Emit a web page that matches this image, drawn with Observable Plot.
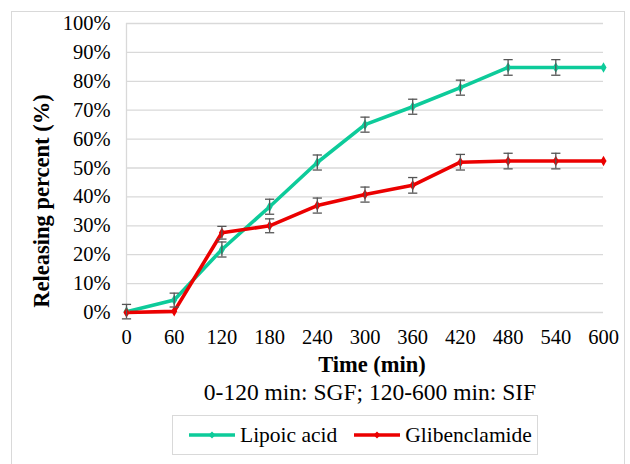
<!DOCTYPE html>
<html>
<head>
<meta charset="utf-8">
<script src="https://cdn.jsdelivr.net/npm/d3@7"></script>
<script src="https://cdn.jsdelivr.net/npm/@observablehq/plot@0.6"></script>
<style>
  body { margin: 0; font-family: 'Liberation Serif', serif; }
  .txt { position: absolute; white-space: nowrap; color: #000; font-family: 'Liberation Serif', serif; }
</style>
</head>
<body>
<div id="frame" style="position:absolute;left:11px;top:11px;width:614px;height:470px;border:1px solid #d9d9d9;box-sizing:border-box;"></div>
<div id="chart" style="position:absolute;left:0;top:0;"></div>
<div id="ytitle" class="txt" style="left:42px;top:201px;transform:translate(-50%,-50%) rotate(-90deg);font-size:22.5px;font-weight:bold;"></div>
<div id="xtitle" class="txt" style="left:372px;top:365px;transform:translate(-50%,-50%);font-size:22.5px;font-weight:bold;"></div>
<div id="subtitle" class="txt" style="left:370px;top:392px;transform:translate(-50%,-50%);font-size:23.5px;"></div>
<div id="legend" style="position:absolute;left:172px;top:415px;width:366px;height:40px;border:1px solid #d9d9d9;box-sizing:border-box;display:flex;align-items:center;font-size:21.5px;color:#000;font-family:'Liberation Serif',serif;"></div>
<script>
const times = [0, 60, 120, 180, 240, 300, 360, 420, 480, 540, 600];
const lipoic = [0.3, 4.3, 21.8, 36.6, 51.9, 65.0, 71.2, 77.8, 84.8, 84.8, 84.8];
const lipoicErr = [2.5, 2.4, 2.6, 2.6, 2.6, 2.6, 2.6, 2.6, 2.7, 2.7, 0];
const glib = [0, 0.4, 27.6, 30.0, 37.0, 40.8, 44.0, 52.0, 52.4, 52.4, 52.4];
const glibErr = [0, 0, 2.2, 2.4, 2.6, 2.6, 2.7, 2.7, 2.7, 2.7, 0];
const seriesNames = ["Lipoic acid", "Glibenclamide"];
const seriesColors = ["#0DCB9A", "#EB0000"];
const yTicks = [0, 10, 20, 30, 40, 50, 60, 70, 80, 90, 100];
const yTitle = "Releasing percent (%)";
const xTitle = "Time (min)";
const subtitle = "0-120 min: SGF; 120-600 min: SIF";

document.getElementById("ytitle").textContent = yTitle;
document.getElementById("xtitle").textContent = xTitle;
document.getElementById("subtitle").textContent = subtitle;

const rows = [];
[lipoic, glib].forEach((vals, si) => {
  const errs = si === 0 ? lipoicErr : glibErr;
  times.forEach((t, i) => rows.push({series: seriesNames[si], t, v: vals[i], e: errs[i]}));
});
const errRows = rows.filter(d => d.e > 0);

const capSymbol = {
  draw(context, size) {
    const r = Math.sqrt(size) / 2;
    context.moveTo(-r, 0);
    context.lineTo(r, 0);
  }
};

const plot = Plot.plot({
  width: 630,
  height: 360,
  marginLeft: 126,
  marginRight: 27,
  marginTop: 23,
  marginBottom: 48,
  style: {fontFamily: "Liberation Serif", fontSize: "20.5px", color: "#000", background: "transparent"},
  x: {domain: [0, 600], ticks: times, tickSize: 0, tickPadding: 17, label: null},
  y: {domain: [0, 100], ticks: yTicks, tickSize: 0, tickPadding: 16, tickFormat: d => d + "%", label: null},
  color: {domain: seriesNames, range: seriesColors},
  marks: [
    Plot.gridY(yTicks, {stroke: "#d9d9d9", strokeOpacity: 1, strokeWidth: 1.3}),
    Plot.ruleX([0], {stroke: "#d9d9d9", strokeWidth: 1.3}),
    Plot.axisX({ticks: times, tickSize: 0, tickPadding: 17, fontSize: 20.5, fontFamily: "Liberation Serif", label: null}),
    Plot.axisY({ticks: yTicks, tickSize: 0, tickPadding: 16, fontSize: 20.5, fontFamily: "Liberation Serif", tickFormat: d => d + "%", label: null}),
    Plot.line(rows, {x: "t", y: "v", z: "series", stroke: "series", strokeWidth: 3.6}),
    Plot.dot(rows, {x: "t", y: "v", fill: "series", symbol: "diamond", r: 3.2}),
    Plot.ruleX(errRows, {x: "t", y1: d => d.v - d.e, y2: d => d.v + d.e, stroke: "#555", strokeWidth: 1.3}),
    Plot.dot(errRows, {x: "t", y: d => d.v - d.e, symbol: capSymbol, r: 5.2, stroke: "#555", fill: "none", strokeWidth: 1.3}),
    Plot.dot(errRows, {x: "t", y: d => d.v + d.e, symbol: capSymbol, r: 5.2, stroke: "#555", fill: "none", strokeWidth: 1.3})
  ]
});
document.getElementById("chart").appendChild(plot);

const legend = document.getElementById("legend");
seriesNames.forEach((name, i) => {
  const item = document.createElement("div");
  item.style.cssText = "display:flex;align-items:center;white-space:nowrap;font-family:'Liberation Serif',serif;margin-left:" + (i === 0 ? 15 : 16) + "px";
  item.innerHTML = `<svg width="48" height="12" style="margin-right:4px"><line x1="1" y1="6" x2="47" y2="6" stroke="${seriesColors[i]}" stroke-width="3.6"/><path d="M24,2.5 L27.5,6 L24,9.5 L20.5,6 Z" fill="${seriesColors[i]}"/></svg>`;
  const span = document.createElement("span");
  span.textContent = name;
  item.appendChild(span);
  legend.appendChild(item);
});
</script>
</body>
</html>
